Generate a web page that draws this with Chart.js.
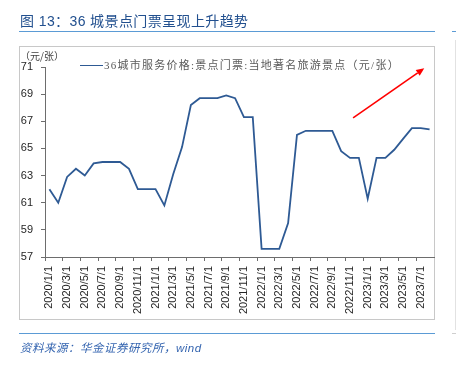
<!DOCTYPE html>
<html><head><meta charset="utf-8">
<script src="https://cdn.jsdelivr.net/npm/chart.js@4.4.1/dist/chart.umd.min.js"></script>
<style>
html,body{margin:0;padding:0;background:#fff;width:456px;height:365px;overflow:hidden}
#wrap{position:relative;width:456px;height:365px}
#c{position:absolute;left:0;top:0}
.t{position:absolute;white-space:nowrap}
#title{left:20px;top:11px;font-size:14px;font-family:"Liberation Sans","Noto Sans CJK SC",sans-serif;color:#22508F;letter-spacing:0.4px;line-height:20px}
#src{left:20px;top:340px;font-size:11.5px;font-style:italic;font-family:"Liberation Sans","Noto Sans CJK SC",sans-serif;color:#3565B0;letter-spacing:0.5px;line-height:16px}
#ytitle{left:20px;top:49px;font-size:10px;font-family:"Noto Sans CJK SC",sans-serif;color:#404040;line-height:14px}
#legend{left:80px;top:58px;font-size:11px;font-family:"Liberation Serif","Noto Sans CJK SC",serif;color:#595959;letter-spacing:1.25px;line-height:14px}
#legend span.l{display:inline-block;width:23px;height:0;border-top:1.8px solid #2E5A94;vertical-align:middle;margin-right:1px;position:relative;top:-1px}
.hl{position:absolute;height:0;border-top:1.6px solid #5B9BD5}
</style></head>
<body><div id="wrap">
<canvas id="c" width="456" height="365"></canvas>
<div class="hl" style="left:19px;top:31px;width:416px"></div>
<div class="hl" style="left:19px;top:333px;width:416px"></div>
<div class="hl" style="left:452px;top:31px;width:4px"></div>
<div class="hl" style="left:452px;top:333px;width:4px;border-color:#cfcfcf"></div>
<div class="t" id="title">图 13：36 城景点门票呈现上升趋势</div>
<div class="t" id="ytitle">（元/张）</div>
<div class="t" id="legend"><span class="l"></span>36城市服务价格:景点门票:当地著名旅游景点（元/张）</div>
<div class="t" id="src">资料来源：华金证券研究所，wind</div>
</div>
<script>
const categories = [
 '2020/1/1','2020/2/1','2020/3/1','2020/4/1','2020/5/1','2020/6/1','2020/7/1','2020/8/1','2020/9/1','2020/10/1','2020/11/1','2020/12/1',
 '2021/1/1','2021/2/1','2021/3/1','2021/4/1','2021/5/1','2021/6/1','2021/7/1','2021/8/1','2021/9/1','2021/10/1','2021/11/1','2021/12/1',
 '2022/1/1','2022/2/1','2022/3/1','2022/4/1','2022/5/1','2022/6/1','2022/7/1','2022/8/1','2022/9/1','2022/10/1','2022/11/1','2022/12/1',
 '2023/1/1','2023/2/1','2023/3/1','2023/4/1','2023/5/1','2023/6/1','2023/7/1','2023/8/1'
];
const priceValues = [
 62.0,61.0,62.9,63.5,63.0,63.9,64.0,64.0,64.0,63.5,62.0,62.0,
 62.0,60.8,63.1,65.1,68.2,68.7,68.7,68.7,68.9,68.7,67.3,67.3,
 57.6,57.6,57.6,59.5,66.0,66.3,66.3,66.3,66.3,64.8,64.3,64.3,
 61.3,64.3,64.3,64.9,65.7,66.5,66.5,66.4
];
const yTicks = [57,59,61,63,65,67,69,71];
const seriesName = '36城市服务价格:景点门票:当地著名旅游景点（元/张）';
// trend arrow annotation, in data coordinates [category index, value]
const arrowFrom = [34.35, 67.25];
const arrowTo = [42.4, 70.9];

const framePlugin = {
  id:'frame',
  beforeDraw(chart){
    const c = chart.ctx;
    c.save();
    c.fillStyle='#fff'; c.fillRect(0,0,chart.width,chart.height);
    c.strokeStyle='#C8C8C8'; c.lineWidth=1;
    c.strokeRect(19.5,46.5,415,273);
    c.strokeStyle='#E2E2E2';
    c.beginPath(); c.moveTo(455.5,40); c.lineTo(455.5,330); c.stroke();
    c.restore();
  }
};
const arrowPlugin = {
  id:'arrow',
  afterDatasetsDraw(chart){
    const x = chart.scales.x, y = chart.scales.y, c = chart.ctx;
    const x1 = x.getPixelForValue(arrowFrom[0]), y1 = y.getPixelForValue(arrowFrom[1]);
    const x2 = x.getPixelForValue(arrowTo[0]), y2 = y.getPixelForValue(arrowTo[1]);
    const a = Math.atan2(y2-y1, x2-x1), L = 8, W = 3.5;
    const bx = x2 - L*Math.cos(a), by = y2 - L*Math.sin(a);
    c.save();
    c.strokeStyle='#FF0000'; c.fillStyle='#FF0000'; c.lineWidth=1.6;
    c.beginPath(); c.moveTo(x1,y1); c.lineTo(bx,by); c.stroke();
    c.beginPath(); c.moveTo(x2,y2);
    c.lineTo(bx + W*Math.sin(a), by - W*Math.cos(a));
    c.lineTo(bx - W*Math.sin(a), by + W*Math.cos(a));
    c.closePath(); c.fill();
    c.restore();
  }
};

new Chart(document.getElementById('c'), {
  type:'line',
  data:{labels:categories, datasets:[{label:seriesName, data:priceValues, borderColor:'#2E5A94', borderWidth:1.8, pointRadius:0, tension:0, fill:false}]},
  options:{
    responsive:false, animation:false, devicePixelRatio:1,
    layout:{padding:{left:19, right:22, top:67, bottom:0}},
    plugins:{legend:{display:false}, tooltip:{enabled:false}, title:{display:false}},
    scales:{
      x:{
        type:'category', offset:true,
        grid:{offset:true, drawOnChartArea:false, drawTicks:true, tickLength:4, lineWidth:1,
              color:(ctx)=> (ctx.index % 2 === 0 ? '#6d6d6d' : 'rgba(0,0,0,0)')},
        border:{color:'#6d6d6d', width:1},
        ticks:{autoSkip:false, minRotation:90, maxRotation:90, padding:5, color:'#262626',
               font:{family:'Liberation Sans', size:11},
               callback:function(v,i){ return i % 2 === 0 ? this.getLabelForValue(v) : ''; }},
        afterFit:(s)=>{ s.height = 108; }
      },
      y:{
        min:yTicks[0], max:yTicks[yTicks.length-1],
        afterBuildTicks:(s)=>{ s.ticks = yTicks.map(v=>({value:v})); },
        grid:{drawOnChartArea:false, drawTicks:true, tickLength:4, color:'#6d6d6d'},
        border:{color:'#6d6d6d', width:1},
        ticks:{padding:8, color:'#262626', font:{family:'Liberation Sans', size:11}},
        afterFit:(s)=>{ s.width = 26; }
      }
    }
  },
  plugins:[framePlugin, arrowPlugin]
});
</script>
</body></html>
